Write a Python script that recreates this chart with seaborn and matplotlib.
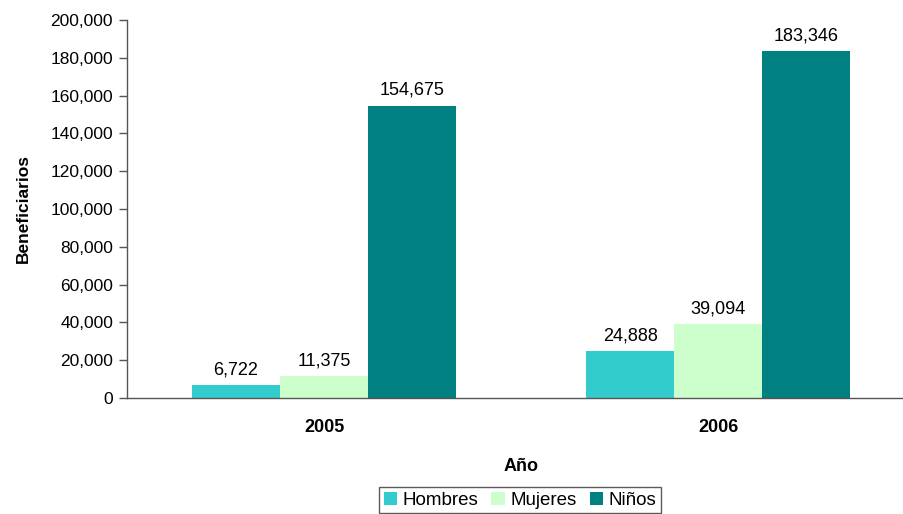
import matplotlib
matplotlib.use("Agg")
import matplotlib.pyplot as plt
import seaborn as sns
import pandas as pd

# Data
years = ["2005", "2006"]
hombres = [6722, 24888]
mujeres = [11375, 39094]
ninos = [154675, 183346]
groups = ["Hombres", "Mujeres", "Niños"]
colors = ["#33CCCC", "#CCFFCC", "#008080"]

df = pd.DataFrame({
    "Año": years * 3,
    "Grupo": ["Hombres"] * 2 + ["Mujeres"] * 2 + ["Niños"] * 2,
    "Beneficiarios": hombres + mujeres + ninos,
})

sns.set_style("white")
plt.rcParams["font.family"] = ["Liberation Sans", "DejaVu Sans"]
plt.rcParams["text.color"] = "black"
plt.rcParams["axes.labelcolor"] = "black"
plt.rcParams["xtick.color"] = "black"
plt.rcParams["ytick.color"] = "black"

fig = plt.figure(figsize=(9.04, 5.14), dpi=100)
ax = fig.add_axes([0.1405, 0.2257, 0.872, 0.7354])

sns.barplot(data=df, x="Año", y="Beneficiarios", hue="Grupo", hue_order=groups,
            palette=colors, width=0.67, gap=0, saturation=1, linewidth=0,
            ax=ax, legend=True)

for c in ax.containers:
    ax.bar_label(c, labels=[f"{v:,.0f}" for v in c.datavalues], padding=5, fontsize=13)

ax.set_ylim(0, 200000)
ax.set_yticks(range(0, 200001, 20000))
ax.yaxis.set_major_formatter(matplotlib.ticker.FuncFormatter(lambda v, p: f"{v:,.0f}"))
ax.set_xlim(-0.5, 1.5)
ax.set_xticks([0.5], minor=True)
ax.tick_params(axis="x", which="major", length=0, pad=15, labelsize=13)
ax.tick_params(axis="x", which="minor", length=5, direction="out", width=1, color="#555555")
ax.tick_params(axis="y", length=6, direction="out", width=1, color="#555555", left=True,
               labelsize=12.5, pad=4)
for t in ax.get_xticklabels():
    t.set_fontweight("bold")

ax.set_xlabel("Año", fontweight="bold", fontsize=13, labelpad=16)
ax.set_ylabel("Beneficiarios", fontweight="bold", fontsize=12.5, labelpad=14)

for s in ["top", "right"]:
    ax.spines[s].set_visible(False)
for s in ["left", "bottom"]:
    ax.spines[s].set_color("#555555")
    ax.spines[s].set_linewidth(1)

leg = ax.legend(title=None, loc="upper center", bbox_to_anchor=(520 / 904, 0.071),
                bbox_transform=fig.transFigure, ncol=3, frameon=True, fancybox=False,
                edgecolor="#333333", handlelength=0.7, handleheight=0.7,
                handletextpad=0.3, columnspacing=0.7, borderpad=0.25, fontsize=13.5)
leg.get_frame().set_linewidth(1)

fig.savefig("out.png", dpi=100)
